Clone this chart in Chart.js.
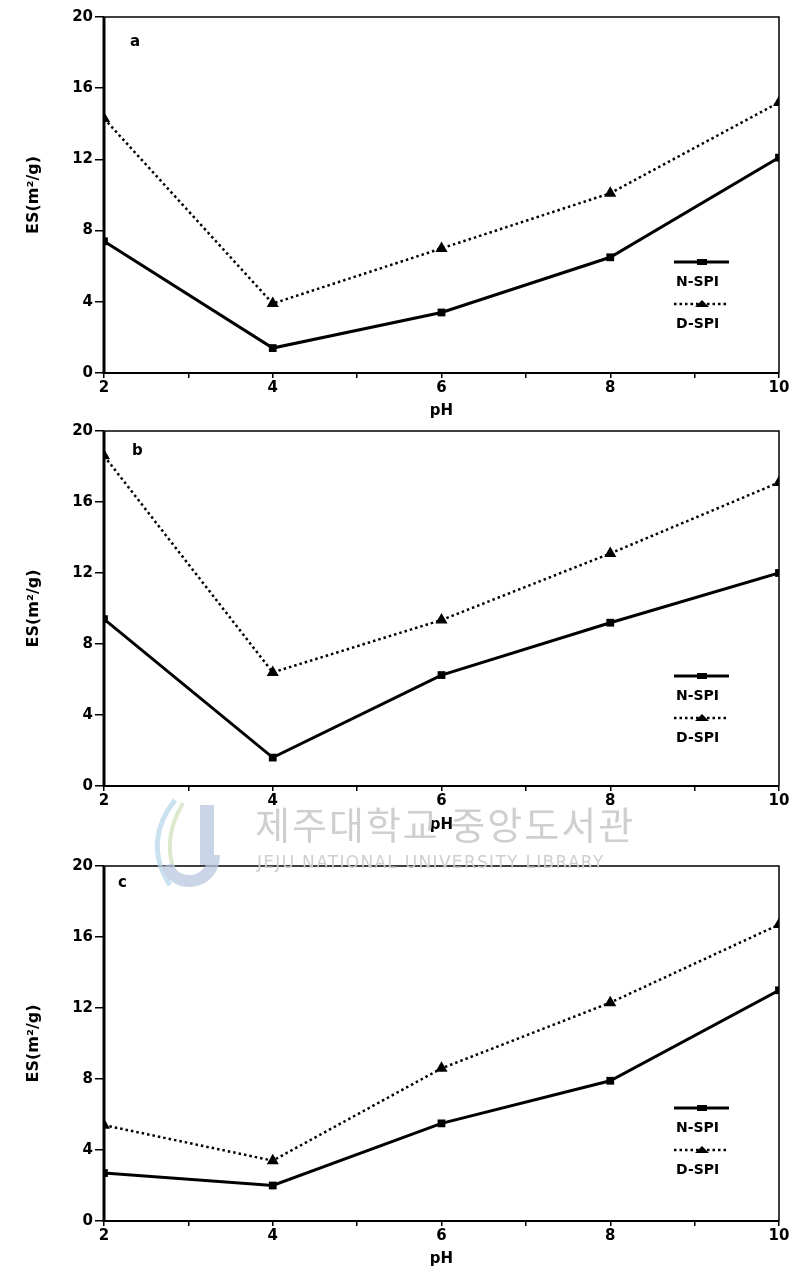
<!DOCTYPE html>
<html>
<head>
<meta charset="utf-8">
<script src="https://cdn.jsdelivr.net/npm/chart.js@4/dist/chart.umd.min.js"></script>
<style>
  body { margin: 0; background: #fff; }
  #wrap { position: relative; width: 798px; height: 1268px; overflow: hidden; }
  .panel { position: absolute; left: 0; width: 798px; }
  #mark { position: absolute; left: 145px; top: 795px; pointer-events: none; color: #cfcfcf; }
  #mark .ko { position: absolute; left: 110px; top: 0; font: 38px "Noto Sans CJK KR"; white-space: nowrap; letter-spacing: 2px; }
  #mark .en { position: absolute; left: 112px; top: 57px; font: 17px "DejaVu Sans"; white-space: nowrap; letter-spacing: 1.3px; }
  #mark .logo { position: absolute; left: 0; top: 0; width: 80px; height: 95px; opacity: 0.75; }
</style>
</head>
<body>
<div id="wrap">
  <div class="panel" style="top:0px;height:420px"><canvas id="chartA"></canvas></div>
  <div class="panel" style="top:414px;height:420px"><canvas id="chartB"></canvas></div>
  <div class="panel" style="top:849px;height:419px"><canvas id="chartC"></canvas></div>
  <div id="mark">
    <svg class="logo" viewBox="0 0 80 95">
      <path d="M30 5 C10 30 5 60 25 90" stroke="#b9d7ea" stroke-width="5" fill="none"/>
      <path d="M38 8 C22 35 20 62 35 88" stroke="#cfe3bd" stroke-width="4" fill="none"/>
      <rect x="55" y="10" width="14" height="60" fill="#b8c8e0"/>
      <path d="M69 60 C69 90 30 95 22 70" stroke="#b8c8e0" stroke-width="12" fill="none"/>
    </svg>
    <div class="ko">제주대학교 중앙도서관</div>
    <div class="en">JEJU NATIONAL UNIVERSITY  LIBRARY</div>
  </div>
</div>
<script>
const phValues = [2, 4, 6, 8, 10];
const seriesNames = ["N-SPI", "D-SPI"];
const panelLabels = ["a", "b", "c"];

const nSpiA = [7.4, 1.4, 3.4, 6.5, 12.1];
const dSpiA = [14.3, 3.9, 7.0, 10.1, 15.2];
const nSpiB = [9.4, 1.6, 6.25, 9.2, 12.0];
const dSpiB = [18.6, 6.4, 9.35, 13.1, 17.1];
const nSpiC = [2.7, 2.0, 5.5, 7.9, 13.0];
const dSpiC = [5.4, 3.4, 8.6, 12.3, 16.7];

const yTicks = [0, 4, 8, 12, 16, 20];
const xTickLabels = ["2", "4", "6", "8", "10"];

const boldFont = { family: "'DejaVu Sans', sans-serif", weight: "bold", size: 15 };

// frame, panel letter and the stacked legend inside the plot
const framePlugin = {
  id: "frame",
  afterDatasetsDraw(chart, args, opts) {
    const { ctx, chartArea: a } = chart;
    ctx.save();
    ctx.strokeStyle = "#000";
    ctx.lineWidth = 1.5;
    ctx.beginPath();
    ctx.moveTo(a.left, a.top); ctx.lineTo(a.right, a.top); ctx.lineTo(a.right, a.bottom);
    ctx.stroke();
    ctx.lineWidth = 3;
    ctx.beginPath();
    ctx.moveTo(a.left, a.top); ctx.lineTo(a.left, a.bottom + 1);
    ctx.stroke();
    ctx.lineWidth = 2.2;
    ctx.beginPath();
    ctx.moveTo(a.left, a.bottom); ctx.lineTo(a.right, a.bottom);
    ctx.stroke();

    ctx.fillStyle = "#000";
    ctx.font = "bold 15px 'DejaVu Sans'";
    ctx.textBaseline = "middle";
    ctx.fillText(opts.letter, a.left + opts.letterDx, a.top + opts.letterDy);

    // legend
    const lx = a.right - 105, ly = a.top + opts.legendDy;
    chart.data.datasets.forEach((ds, i) => {
      const y = ly + i * 42;
      ctx.strokeStyle = "#000";
      ctx.lineWidth = ds.borderWidth;
      ctx.setLineDash(ds.borderDash || []);
      ctx.beginPath(); ctx.moveTo(lx, y); ctx.lineTo(lx + 55, y); ctx.stroke();
      ctx.setLineDash([]);
      ctx.beginPath();
      if (ds.pointStyle === "rect") {
        ctx.rect(lx + 23, y - 3, 10, 6);
      } else {
        ctx.moveTo(lx + 21, y + 3); ctx.lineTo(lx + 28, y - 4); ctx.lineTo(lx + 35, y + 3);
      }
      ctx.fill();
      ctx.font = "bold 14px 'DejaVu Sans'";
      ctx.fillText(ds.label, lx + 2, y + 20);
    });
    ctx.restore();
  }
};

function makeChart(id, nSpi, dSpi, cfg) {
  return new Chart(document.getElementById(id), {
    type: "line",
    data: {
      labels: phValues,
      datasets: [
        {
          label: seriesNames[0],
          data: phValues.map((x, i) => ({ x, y: nSpi[i] })),
          borderColor: "#000", backgroundColor: "#000",
          borderWidth: 3, pointStyle: "rect", pointRadius: 5.5, pointBorderWidth: 0
        },
        {
          label: seriesNames[1],
          data: phValues.map((x, i) => ({ x, y: dSpi[i] })),
          borderColor: "#000", backgroundColor: "#000",
          borderWidth: 2.5, borderDash: [2.5, 3], pointStyle: "triangle", pointRadius: 7, pointBorderWidth: 0
        }
      ]
    },
    options: {
      responsive: true,
      maintainAspectRatio: false,
      animation: false,
      layout: { padding: { top: cfg.top, right: 19, left: 0, bottom: 0 } },
      scales: {
        x: {
          type: "linear", min: 2, max: 10,
          border: { display: false },
          grid: { drawOnChartArea: false, color: "#000", lineWidth: 1.5, tickLength: 5 },
          ticks: {
            stepSize: 1, color: "#000", font: boldFont, padding: 1, maxRotation: 0,
            callback: v => (v % 2 === 0 ? xTickLabels[(v - 2) / 2] : "")
          },
          title: { display: true, text: "pH", color: "#000", font: boldFont, padding: { top: 0, bottom: 0 } },
          afterFit: s => { s.height = cfg.xHeight; }
        },
        y: {
          min: 0, max: 20,
          border: { display: false },
          grid: { drawOnChartArea: false, color: "#000", lineWidth: 1.5, tickLength: 9 },
          afterBuildTicks: s => { s.ticks = yTicks.map(v => ({ value: v })); },
          ticks: { color: "#000", font: boldFont, padding: 2 },
          title: {
            display: true, text: "ES(m²/g)", color: "#000",
            font: { family: "'DejaVu Sans', sans-serif", weight: "bold", size: 16 },
            padding: { top: 24, bottom: 0 }
          },
          afterFit: s => { s.width = 104; }
        }
      },
      plugins: {
        legend: { display: false },
        tooltip: { enabled: false },
        frame: cfg.frame
      }
    },
    plugins: [framePlugin]
  });
}

makeChart("chartA", nSpiA, dSpiA, { top: 17, xHeight: 47, frame: { letter: panelLabels[0], letterDx: 26, letterDy: 25, legendDy: 245 } });
makeChart("chartB", nSpiB, dSpiB, { top: 17, xHeight: 48, frame: { letter: panelLabels[1], letterDx: 28, letterDy: 20, legendDy: 245 } });
makeChart("chartC", nSpiC, dSpiC, { top: 17, xHeight: 47, frame: { letter: panelLabels[2], letterDx: 14, letterDy: 17, legendDy: 242 } });
</script>
</body>
</html>
